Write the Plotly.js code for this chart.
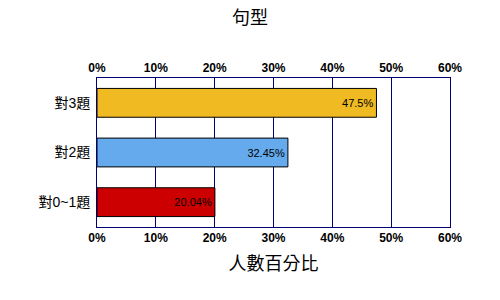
<!DOCTYPE html>
<html><head><meta charset="utf-8">
<script src="https://cdn.plot.ly/plotly-3.0.1.min.js"></script>
<style>body{margin:0;background:#fff}#c{width:500px;height:300px}</style>
</head><body><div id="c"></div>
<script>
const categories = ["對3題", "對2題", "對0~1題"];
const values = [47.5, 32.45, 20.04];
const colors = ["#F0BA22", "#64AAEC", "#CC0000"];
const tickVals = [0, 10, 20, 30, 40, 50, 60];
const tickLabels = ["0%", "10%", "20%", "30%", "40%", "50%", "60%"];

const cjk = '"Liberation Sans", Arial, "Noto Sans CJK TC", sans-serif';
const axisCommon = {
  range: [0, 60], tickmode: 'array', tickvals: tickVals, ticktext: tickLabels,
  showgrid: true, gridcolor: '#000070', gridwidth: 1,
  showline: true, linecolor: '#000070', linewidth: 1,
  ticks: '', zeroline: false, fixedrange: true,
  tickfont: {family: cjk, size: 12, color: '#000', weight: 'bold'}
};
const data = [
  {type: 'bar', orientation: 'h', y: categories, x: values,
   marker: {color: colors, line: {color: '#000', width: 1}},
   text: values.map(v => v + '%'), textposition: 'inside', insidetextanchor: 'end',
   textfont: {family: cjk, size: 11, color: '#000'},
   hoverinfo: 'none', width: 0.58},
  {type: 'scatter', mode: 'markers', x: [0], y: [categories[0]], xaxis: 'x2',
   marker: {opacity: 0}, hoverinfo: 'none', showlegend: false}
];
const layout = {
  width: 500, height: 300,
  margin: {l: 97, r: 50, t: 78, b: 73},
  paper_bgcolor: '#fff', plot_bgcolor: '#fff',
  showlegend: false,
  title: {text: '句型', x: 0.5, xanchor: 'center', y: 0.94, yanchor: 'middle',
          font: {family: cjk, size: 18, color: '#000'}},
  xaxis: Object.assign({}, axisCommon, {side: 'bottom',
    title: {text: '人數百分比', font: {family: cjk, size: 18, color: '#000'}, standoff: 12}}),
  xaxis2: Object.assign({}, axisCommon, {side: 'top', overlaying: 'x', showgrid: false}),
  yaxis: {categoryorder: 'array', categoryarray: categories.slice().reverse(),
          showline: true, linecolor: '#000070', linewidth: 1, mirror: true,
          ticks: '', showgrid: false, fixedrange: true, ticklabelstandoff: 3,
          tickfont: {family: cjk, size: 14, color: '#000'}},
  bargap: 0.42
};
Plotly.newPlot('c', data, layout, {displayModeBar: false, staticPlot: true});
</script></body></html>
